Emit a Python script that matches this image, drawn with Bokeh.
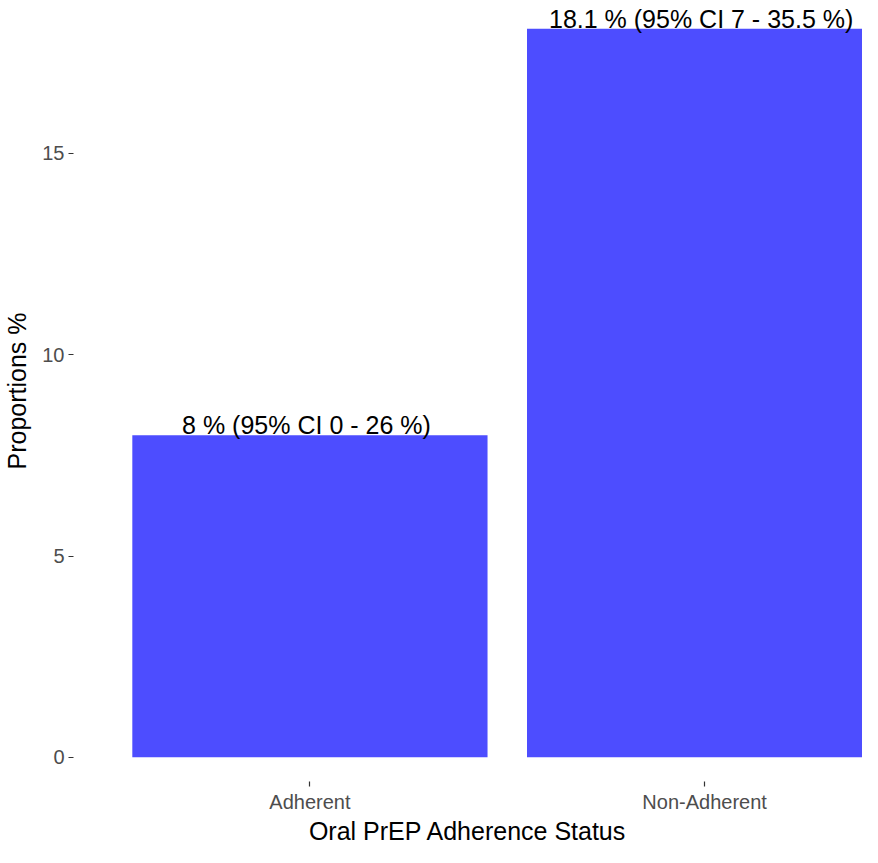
from bokeh.plotting import figure
from bokeh.models import ColumnDataSource, Range1d, FixedTicker
from bokeh.core.properties import value
from bokeh.embed import file_html
from bokeh.resources import INLINE

categories = ["Adherent", "Non-Adherent"]
proportions = [8.0, 18.1]
ci_low = [0, 7]
ci_high = [26, 35.5]
labels = ["8 % (95% CI  0 - 26 %)", "18.1 % (95% CI  7 - 35.5 %)"]
y_ticks = [0, 5, 10, 15]

xs = list(range(1, len(categories) + 1))
src = ColumnDataSource(dict(x=xs, top=proportions, label=labels, cat=categories))

p = figure(width=862, height=847, output_backend="svg", toolbar_location=None,
           x_range=Range1d(0.401, 2.40), y_range=Range1d(-0.6, 18.8),
           min_border_left=71, min_border_right=0, min_border_top=0, min_border_bottom=60)
p.outline_line_color = None
p.background_fill_color = "white"
p.border_fill_color = "white"
p.xgrid.visible = False
p.ygrid.visible = False

p.vbar(x="x", top="top", bottom=0, width=0.9, source=src,
       fill_color="#4D4DFF", line_color=None)
p.text(x="x", y="top", text="label", source=src, text_align="center",
       text_baseline="bottom", text_font=value("Liberation Sans"),
       text_font_size="25px", text_color="black", y_offset=4)

for ax in (p.xaxis[0], p.yaxis[0]):
    ax.axis_line_color = None
    ax.major_tick_line_color = "#333333"
    ax.major_tick_line_width = 1.2
    ax.major_tick_in = 0
    ax.major_tick_out = 5
    ax.minor_tick_line_color = None
    ax.major_label_text_font = "Liberation Sans"
    ax.major_label_text_font_size = "20px"
    ax.major_label_text_color = "#4D4D4D"
    ax.axis_label_text_font = "Liberation Sans"
    ax.axis_label_text_font_size = "25px"
    ax.axis_label_text_font_style = "normal"
    ax.axis_label_text_color = "black"
    ax.major_label_standoff = 4

p.xaxis.ticker = FixedTicker(ticks=xs)
p.xaxis.major_label_overrides = {x: c for x, c in zip(xs, categories)}
p.xaxis.axis_label = "Oral PrEP Adherence Status"
p.xaxis.axis_label_standoff = 1
p.yaxis.ticker = FixedTicker(ticks=y_ticks)
p.yaxis.axis_label = "Proportions %"
p.yaxis.axis_label_standoff = 8

open("out.html", "w").write(file_html(p, INLINE))
